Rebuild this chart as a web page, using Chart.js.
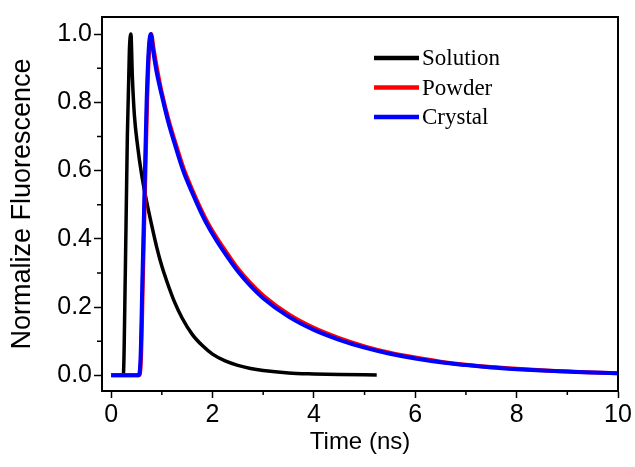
<!DOCTYPE html>
<html>
<head>
<meta charset="utf-8">
<script src="https://cdn.jsdelivr.net/npm/chart.js@4/dist/chart.umd.min.js"></script>
<style>
  html, body { margin: 0; padding: 0; background: #fff; }
  #wrap { width: 635px; height: 467px; }
</style>
</head>
<body>
<div id="wrap"><canvas id="decayChart"></canvas></div>
<script>
// values (time in ns, normalized intensity)
const solutionTime = [0, 0.24, 0.28, 0.32, 0.36, 0.39, 0.42, 0.46, 0.52, 0.6, 0.7, 0.8, 0.9, 1.0, 1.1, 1.25, 1.4, 1.6, 1.8, 2.0, 2.25, 2.5, 2.75, 3.0, 3.5, 4.0, 4.5, 5.24];
const solutionVals = [0, 0, 0.3, 0.7, 0.95, 1.0, 0.87, 0.76, 0.675, 0.59, 0.51, 0.44, 0.375, 0.32, 0.275, 0.215, 0.168, 0.12, 0.087, 0.062, 0.042, 0.029, 0.02, 0.014, 0.007, 0.004, 0.002, 0.001];

const powderTime = [0, 0.55, 0.59, 0.63, 0.67, 0.71, 0.75, 0.79, 0.84, 0.91, 1.0, 1.13, 1.25, 1.43, 1.6, 1.75, 1.9, 2.1, 2.3, 2.5, 2.75, 3.0, 3.5, 4.0, 4.5, 5.0, 5.5, 6.0, 6.5, 7.0, 7.5, 8.0, 8.5, 9.0, 9.5, 10.0];
const powderVals = [0, 0, 0.05, 0.3, 0.55, 0.8, 0.95, 1.0, 0.955, 0.895, 0.828, 0.75, 0.69, 0.606, 0.544, 0.494, 0.449, 0.399, 0.355, 0.313, 0.27, 0.234, 0.179, 0.139, 0.109, 0.085, 0.066, 0.052, 0.04, 0.031, 0.024, 0.019, 0.015, 0.011, 0.008, 0.006];

const crystalTime = [0, 0.54, 0.58, 0.62, 0.66, 0.7, 0.74, 0.78, 0.83, 0.9, 1.0, 1.13, 1.25, 1.43, 1.6, 1.75, 1.9, 2.1, 2.3, 2.5, 2.75, 3.0, 3.5, 4.0, 4.5, 5.0, 5.5, 6.0, 6.5, 7.0, 7.5, 8.0, 8.5, 9.0, 9.5, 10.0];
const crystalVals = [0, 0, 0.05, 0.3, 0.55, 0.8, 0.95, 1.0, 0.95, 0.887, 0.82, 0.741, 0.68, 0.596, 0.535, 0.485, 0.44, 0.39, 0.346, 0.305, 0.262, 0.226, 0.172, 0.133, 0.104, 0.081, 0.063, 0.049, 0.038, 0.03, 0.023, 0.018, 0.014, 0.011, 0.008, 0.006];

const xMajor = [0, 2, 4, 6, 8, 10];
const xMinor = [1, 3, 5, 7, 9];
const yMajor = [0, 0.2, 0.4, 0.6, 0.8, 1.0];
const yMinor = [0.1, 0.3, 0.5, 0.7, 0.9];

function toPoints(xs, ys) {
    return xs.map((x, i) => ({ x: x, y: ys[i] }));
}

// frame on top/right, minor ticks, and the in-plot legend
const framePlugin = {
    id: 'frame',
    afterDraw(chart) {
        const ctx = chart.ctx;
        const a = chart.chartArea;
        const xs = chart.scales.x, ys = chart.scales.y;
        ctx.save();
        ctx.strokeStyle = '#000';
        ctx.lineWidth = 2;
        ctx.strokeRect(a.left, a.top, a.right - a.left, a.bottom - a.top);

        ctx.lineWidth = 1.5;
        ctx.beginPath();
        xMinor.forEach(v => {
            const px = xs.getPixelForValue(v);
            ctx.moveTo(px, a.bottom);
            ctx.lineTo(px, a.bottom + 4);
        });
        yMinor.forEach(v => {
            const py = ys.getPixelForValue(v);
            ctx.moveTo(a.left, py);
            ctx.lineTo(a.left - 5, py);
        });
        ctx.stroke();

        // legend
        ctx.font = '23px "Liberation Serif", "Times New Roman", serif';
        ctx.textBaseline = 'middle';
        chart.data.datasets.forEach((ds, i) => {
            const y = 58 + i * 29.5;
            ctx.strokeStyle = ds.borderColor;
            ctx.lineWidth = 4.5;
            ctx.beginPath();
            ctx.moveTo(374, y);
            ctx.lineTo(419, y);
            ctx.stroke();
            ctx.fillStyle = '#000';
            ctx.fillText(ds.label, 422, y + 1);
        });
        ctx.restore();
    }
};

const tickFont = { family: '"Liberation Sans", Arial, sans-serif', size: 25 };
const titleFont = { family: '"Liberation Sans", Arial, sans-serif', size: 24 };

new Chart(document.getElementById('decayChart'), {
    type: 'scatter',
    data: {
        datasets: [
            { label: 'Solution', data: toPoints(solutionTime, solutionVals), borderColor: '#000000', borderWidth: 3.5, order: 3 },
            { label: 'Powder', data: toPoints(powderTime, powderVals), borderColor: '#ff0000', borderWidth: 4, order: 2 },
            { label: 'Crystal', data: toPoints(crystalTime, crystalVals), borderColor: '#0000ff', borderWidth: 4, order: 1 }
        ].map(ds => Object.assign(ds, {
            showLine: true,
            pointRadius: 0,
            fill: false,
            cubicInterpolationMode: 'monotone'
        }))
    },
    options: {
        responsive: true,
        maintainAspectRatio: false,
        animation: false,
        layout: { padding: { left: 0, top: 13, right: 17, bottom: 0 } },
        plugins: {
            legend: { display: false },
            tooltip: { enabled: false }
        },
        scales: {
            x: {
                type: 'linear',
                min: -0.18,
                max: 10,
                afterBuildTicks: s => { s.ticks = xMajor.map(v => ({ value: v })); },
                afterFit: s => { s.height = 76; },
                grid: { drawOnChartArea: false, tickLength: 7, tickWidth: 1.5, tickColor: '#000' },
                border: { display: true, color: '#000', width: 2 },
                ticks: { color: '#000', font: tickFont, padding: 2, maxRotation: 0, callback: v => String(v) },
                title: { display: true, text: 'Time (ns)', color: '#000', font: titleFont, padding: { top: 0, bottom: 10 } }
            },
            y: {
                type: 'linear',
                min: -0.046,
                max: 1.05,
                afterBuildTicks: s => { s.ticks = yMajor.map(v => ({ value: v })); },
                afterFit: s => { s.width = 102; },
                grid: { drawOnChartArea: false, tickLength: 8, tickWidth: 1.5, tickColor: '#000' },
                border: { display: true, color: '#000', width: 2 },
                ticks: { color: '#000', font: tickFont, padding: 2, callback: v => v.toFixed(1) },
                title: { display: true, text: 'Normalize Fluorescence', color: '#000', font: { family: titleFont.family, size: 27 }, padding: { top: 6, bottom: 0 } }
            }
        }
    },
    plugins: [framePlugin]
});
</script>
</body>
</html>
